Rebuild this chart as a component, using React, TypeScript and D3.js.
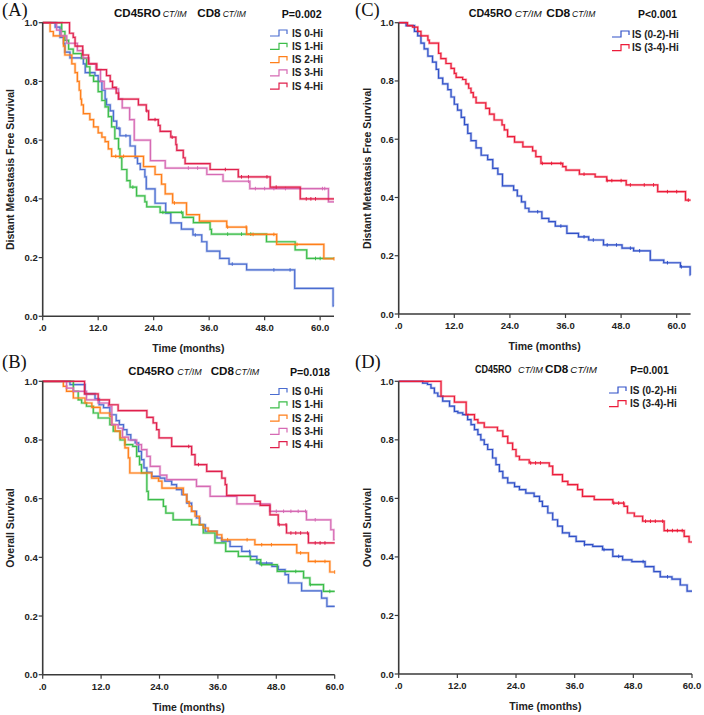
import React from "react";
import * as d3 from "d3";

// ---------- DATA (time in months, survival probability after step) ----------
const A_IS0 = [[2.7,0.985],[3.75,0.95],[4.5,0.93],[4.8,0.9],[5.9,0.88],[8.8,0.86],[9.2,0.83],[11.3,0.82],[12.0,0.8],[12.8,0.77],[13.5,0.74],[13.8,0.72],[14.6,0.7],[15.3,0.665],[16.0,0.64],[16.7,0.615],[18.9,0.58],[20.0,0.54],[20.5,0.52],[21.1,0.5],[22.1,0.475],[22.4,0.434],[24.3,0.385],[26.6,0.351],[27.7,0.318],[30.0,0.297],[32.5,0.277],[34.4,0.254],[35.5,0.222],[38.3,0.197],[40.3,0.178],[44.1,0.158],[54.5,0.095],[62.8,0.035]];
const A_IS1 = [[4.1,0.97],[4.8,0.94],[5.6,0.91],[6.6,0.895],[8.4,0.878],[9.5,0.85],[10.2,0.82],[11.0,0.8],[12.0,0.765],[12.8,0.735],[13.5,0.713],[14.2,0.68],[14.9,0.645],[15.6,0.605],[16.4,0.57],[16.7,0.54],[17.1,0.5],[18.2,0.462],[18.9,0.44],[20.3,0.41],[22.1,0.39],[22.5,0.373],[25.4,0.354],[30.3,0.337],[32.6,0.319],[36.2,0.296],[36.5,0.28],[48.4,0.254],[54.6,0.226],[57.1,0.197]];
const A_IS2 = [[1.6,0.97],[2.3,0.955],[4.5,0.92],[4.8,0.89],[6.3,0.86],[7.0,0.83],[7.5,0.8],[7.9,0.77],[8.2,0.74],[8.4,0.72],[8.8,0.69],[10.2,0.67],[11.0,0.645],[12.0,0.625],[12.8,0.61],[13.5,0.595],[14.2,0.57],[14.9,0.545],[21.8,0.51],[24.3,0.483],[25.7,0.45],[26.5,0.417],[28.1,0.386],[31.1,0.346],[33.9,0.324],[39.8,0.304],[44.1,0.279],[50.6,0.245],[60.8,0.196]];
const A_IS3 = [[3.0,0.975],[4.0,0.955],[5.2,0.93],[7.5,0.905],[8.7,0.88],[10.0,0.86],[11.5,0.84],[12.5,0.8],[13.3,0.775],[16.4,0.74],[17.2,0.71],[18.8,0.67],[19.8,0.6],[23.3,0.53],[26.5,0.505],[35.5,0.483],[39.0,0.46],[44.8,0.435],[61.8,0.39]];
const A_IS4 = [[5.8,0.964],[6.6,0.95],[7.0,0.92],[8.65,0.89],[9.9,0.86],[11.7,0.84],[13.8,0.82],[14.6,0.8],[15.1,0.78],[15.9,0.76],[16.4,0.74],[20.7,0.72],[22.4,0.7],[22.9,0.67],[25.0,0.65],[25.4,0.63],[27.7,0.61],[28.8,0.585],[29.0,0.565],[30.4,0.54],[30.8,0.52],[36.2,0.5],[42.3,0.475],[49.2,0.44],[55.7,0.4]];

const B_IS0 = [[5.6,0.989],[8.7,0.957],[10.75,0.94],[11.6,0.92],[12.5,0.91],[13.8,0.886],[15.1,0.866],[15.75,0.852],[16.6,0.835],[17.3,0.818],[18.1,0.8],[19.0,0.79],[19.7,0.761],[20.3,0.733],[20.8,0.705],[21.4,0.69],[22.4,0.676],[24.1,0.67],[25.1,0.66],[26.5,0.648],[27.5,0.631],[28.6,0.614],[29.6,0.585],[30.6,0.557],[31.6,0.534],[32.3,0.511],[33.4,0.489],[35.8,0.466],[36.8,0.455],[38.5,0.437],[40.9,0.42],[42.6,0.403],[44.0,0.38],[47.1,0.369],[48.4,0.358],[49.8,0.341],[50.5,0.3125],[53.2,0.286],[57.3,0.261],[58.4,0.233]];
const B_IS1 = [[6.3,0.966],[7.3,0.937],[8.0,0.926],[9.0,0.915],[10.4,0.892],[11.4,0.875],[13.8,0.852],[14.5,0.83],[15.9,0.8],[16.9,0.784],[18.5,0.778],[19.3,0.744],[19.9,0.716],[20.3,0.688],[21.4,0.625],[21.7,0.597],[24.8,0.574],[25.3,0.551],[26.8,0.528],[30.6,0.511],[33.0,0.483],[35.4,0.449],[37.6,0.42],[40.2,0.403],[42.7,0.392],[44.8,0.375],[48.2,0.352],[53.6,0.33],[54.9,0.307],[57.7,0.284]];
const B_IS2 = [[4.25,0.983],[4.9,0.966],[6.3,0.943],[8.7,0.926],[10.1,0.911],[11.8,0.892],[13.8,0.88],[14.2,0.852],[14.9,0.83],[15.9,0.807],[16.9,0.773],[17.6,0.739],[17.9,0.6875],[22.4,0.67],[23.8,0.66],[24.5,0.636],[28.9,0.614],[29.6,0.59],[30.1,0.574],[30.6,0.557],[31.3,0.54],[32.2,0.511],[33.0,0.5],[34.0,0.489],[35.8,0.477],[36.8,0.46],[43.6,0.443],[52.2,0.415],[54.6,0.386],[59.0,0.35]];
const B_IS3 = [[4.9,0.977],[6.3,0.966],[9.0,0.937],[11.4,0.926],[13.5,0.915],[14.2,0.852],[15.5,0.84],[16.4,0.81],[17.6,0.8],[19.3,0.784],[20.3,0.767],[21.4,0.744],[22.1,0.71],[24.1,0.68],[25.5,0.665],[31.6,0.642],[34.4,0.608],[39.9,0.582],[46.7,0.557],[54.2,0.528],[59.2,0.494],[59.8,0.46]];
const B_IS4 = [[8.6,0.957],[11.4,0.937],[13.7,0.92],[15.5,0.9],[21.4,0.877],[22.7,0.858],[23.4,0.835],[23.9,0.807],[26.5,0.778],[30.6,0.75],[31.3,0.716],[33.7,0.693],[36.8,0.67],[37.5,0.648],[37.8,0.611],[43.6,0.591],[44.7,0.577],[46.7,0.545],[48.4,0.511],[50.1,0.483],[54.6,0.449]];

const C_LOW = [[1.6,0.99],[3.4,0.97],[4.1,0.955],[4.8,0.93],[5.5,0.91],[6.3,0.885],[7.3,0.865],[8.1,0.84],[8.6,0.81],[9.5,0.79],[10.6,0.77],[11.3,0.745],[12.0,0.72],[12.7,0.7],[13.5,0.675],[14.2,0.65],[14.9,0.62],[15.6,0.595],[16.7,0.57],[17.8,0.545],[19.2,0.53],[20.3,0.5],[21.4,0.48],[22.4,0.44],[24.8,0.425],[25.6,0.405],[26.5,0.385],[27.3,0.363],[28.1,0.351],[30.9,0.328],[32.4,0.317],[33.8,0.302],[36.3,0.277],[38.8,0.265],[41.0,0.254],[44.2,0.237],[48.2,0.226],[50.7,0.217],[54.3,0.185],[57.2,0.176],[60.8,0.162],[62.9,0.134]];
const C_HIGH = [[1.9,0.99],[3.0,0.985],[4.1,0.97],[4.8,0.955],[6.3,0.94],[6.6,0.93],[8.6,0.895],[9.1,0.877],[10.2,0.86],[11.3,0.843],[12.0,0.826],[12.4,0.812],[13.8,0.805],[14.5,0.79],[15.1,0.775],[15.6,0.76],[16.1,0.744],[16.7,0.725],[18.8,0.706],[19.6,0.686],[20.6,0.666],[22.3,0.649],[22.8,0.632],[23.5,0.609],[25.0,0.59],[26.8,0.574],[28.9,0.56],[29.6,0.54],[30.7,0.517],[35.4,0.506],[36.1,0.494],[39.0,0.48],[42.4,0.471],[44.9,0.458],[49.1,0.443],[55.9,0.42],[61.9,0.391]];

const D_LOW = [[4.9,0.994],[5.9,0.989],[6.6,0.977],[7.3,0.96],[8.0,0.949],[9.0,0.932],[10.4,0.915],[11.4,0.897],[12.1,0.892],[13.1,0.886],[14.1,0.869],[14.8,0.852],[15.5,0.835],[16.2,0.818],[16.8,0.8],[17.5,0.784],[18.2,0.767],[19.2,0.738],[19.9,0.715],[20.6,0.692],[21.3,0.67],[22.3,0.653],[23.7,0.64],[24.7,0.63],[26.0,0.618],[27.7,0.607],[28.8,0.59],[29.4,0.573],[30.5,0.55],[31.5,0.527],[32.5,0.505],[33.5,0.482],[34.9,0.47],[36.3,0.453],[38.0,0.442],[39.7,0.436],[41.7,0.425],[43.8,0.402],[45.8,0.39],[47.7,0.384],[50.4,0.367],[52.2,0.35],[53.5,0.332],[55.9,0.324],[57.6,0.304],[59.0,0.283]];
const D_HIGH = [[8.66,0.949],[11.4,0.929],[13.8,0.886],[15.5,0.869],[16.2,0.858],[17.5,0.843],[20.2,0.831],[21.3,0.812],[22.3,0.789],[23.3,0.767],[24.0,0.744],[24.7,0.732],[26.7,0.721],[30.8,0.71],[31.5,0.681],[33.5,0.658],[34.6,0.647],[36.6,0.63],[37.6,0.607],[40.0,0.596],[43.8,0.584],[46.1,0.573],[46.8,0.55],[48.2,0.539],[49.9,0.522],[54.3,0.49],[58.4,0.47],[59.4,0.451]];

// censor times
const A_IS0_C = [16.5, 18.0, 33.0, 41.0, 50.0, 53.5];
const A_IS1_C = [19.5, 26.0, 30.0, 40.0, 43.0, 45.0, 59.0, 60.0];
const A_IS2_C = [15.8, 17.5, 28.5, 40.0, 44.0, 45.5, 50.0, 55.0, 63.0];
const A_IS3_C = [31.5, 33.5, 44.5, 46.0, 48.0, 50.0, 52.5, 60.5, 61.0];
const A_IS4_C = [22.5, 24.3, 28.0, 39.5, 43.0, 44.5, 48.5, 50.5, 57.0, 58.0, 59.0];
const B_IS0_C = [42.5, 44.5, 46.0];
const B_IS1_C = [45.0, 52.0, 55.0, 59.0];
const B_IS2_C = [38.0, 42.0, 45.0, 47.0, 53.0, 56.0, 58.0, 60.0];
const B_IS3_C = [48.0, 49.5, 51.0, 52.5, 54.0, 56.0];
const B_IS4_C = [30.0, 32.0, 48.6, 50.0, 51.0, 52.0, 53.0, 54.4, 56.0, 57.0, 58.0];
const C_LOW_C = [30.0, 35.0, 40.0, 42.0, 45.0, 47.0, 50.0, 52.0, 58.0, 61.0];
const C_HIGH_C = [31.0, 33.0, 35.0, 40.0, 45.0, 46.0, 48.0, 50.0, 53.0, 55.0, 58.0, 60.0, 62.5];
const D_LOW_C = [38.0, 42.0, 45.0, 50.0, 55.0];
const D_HIGH_C = [27.0, 28.0, 29.0, 44.0, 45.0, 46.0, 50.5, 51.5, 52.5, 54.0, 55.0, 56.0, 57.0, 58.0];

const IS5_NAMES = ["IS 0-Hi", "IS 1-Hi", "IS 2-Hi", "IS 3-Hi", "IS 4-Hi"];
const IS2_NAMES = ["IS (0-2)-Hi", "IS (3-4)-Hi"];
const TITLE_PARTS = ["CD45RO", "CT/IM", "CD8", "CT/IM"];
const X_TICKS = [0, 12, 24, 36, 48, 60];
const Y_TICKS = [0, 0.2, 0.4, 0.6, 0.8, 1.0];

const COLORS5 = ["#4a6cd0", "#3cbd4a", "#ff7f1a", "#d66ab4", "#e0204c"];
const COLORS2 = ["#3050c8", "#ec1c3a"];

type Pt = number[];

const panels = [
  {
    id: "A", label: "(A)", lx: 2, ly: 15.5,
    x0: 42.7, x1: 334, y0: 316.3, y1: 22.7, tmax: 63,
    ylabel: "Distant Metastasis Free Survival", ylabX: 14,
    titleX: [114, 162.7, 197.3, 222.7], titleW: [46.7, 24, 23.3, 23.3], titleY: 17,
    p: "P=0.002", pX: 281.7, pW: 40,
    legX: 270, legTextX: 292, legY: 36.5,
    names: IS5_NAMES, colors: COLORS5,
    data: [A_IS0, A_IS1, A_IS2, A_IS3, A_IS4],
    cens: [A_IS0_C, A_IS1_C, A_IS2_C, A_IS3_C, A_IS4_C],
  },
  {
    id: "C", label: "(C)", lx: 355, ly: 15.5,
    x0: 398.7, x1: 690.6, y0: 314, y1: 22.7, tmax: 63,
    ylabel: "Distant Metastasis Free Survival", ylabX: 371,
    titleX: [468.7, 514.7, 546.3, 572], titleW: [43.3, 27, 24, 23.3], titleY: 17,
    p: "P<0.001", pX: 638, pW: 39,
    legX: 612, legTextX: 632, legY: 37.5,
    names: IS2_NAMES, colors: COLORS2,
    data: [C_LOW, C_HIGH],
    cens: [C_LOW_C, C_HIGH_C],
  },
  {
    id: "B", label: "(B)", lx: 2, ly: 367.5,
    x0: 42.7, x1: 334.7, y0: 674.7, y1: 381.3, tmax: 60,
    ylabel: "Overall Survival", ylabX: 14,
    titleX: [128.3, 177.3, 210.7, 235], titleW: [45.7, 24.3, 23.3, 24.3], titleY: 375,
    p: "P=0.018", pX: 290, pW: 40,
    legX: 270, legTextX: 292, legY: 395,
    names: IS5_NAMES, colors: COLORS5,
    data: [B_IS0, B_IS1, B_IS2, B_IS3, B_IS4],
    cens: [B_IS0_C, B_IS1_C, B_IS2_C, B_IS3_C, B_IS4_C],
  },
  {
    id: "D", label: "(D)", lx: 355, ly: 367.5,
    x0: 398.7, x1: 692, y0: 674, y1: 381.3, tmax: 60,
    ylabel: "Overall Survival", ylabX: 371,
    titleX: [475, 518, 545, 570.3], titleW: [36.5, 25, 23.3, 26.7], titleY: 373,
    p: "P=0.001", pX: 630.3, pW: 38.3,
    legX: 609, legTextX: 630, legY: 393.5,
    names: IS2_NAMES, colors: COLORS2,
    data: [D_LOW, D_HIGH],
    cens: [D_LOW_C, D_HIGH_C],
  },
];

const SANS = "'Liberation Sans', Arial, Helvetica, sans-serif";

function survAt(pts: Pt[], t: number) {
  let s = 1;
  for (const p of pts) {
    if (p[0] <= t) s = p[1];
    else break;
  }
  return s;
}

function Panel({ cfg }: { cfg: any }) {
  const x = d3.scaleLinear().domain([0, cfg.tmax]).range([cfg.x0, cfg.x1]);
  const y = d3.scaleLinear().domain([0, 1]).range([cfg.y0, cfg.y1]);
  const line = d3
    .line<Pt>()
    .x((d) => x(d[0]))
    .y((d) => y(d[1]))
    .curve(d3.curveStepAfter);
  const axisColor = "#3a3a3a";
  const legStep = cfg.names.length > 2 ? 13.3 : 13.7;
  return (
    <g>
      <text x={cfg.lx} y={cfg.ly} fontFamily="'Liberation Serif', 'Times New Roman', serif" fontSize={18.5} fill="#111">
        {cfg.label}
      </text>
      {/* title */}
      <g fontFamily={SANS} fill="#111">
        {TITLE_PARTS.map((t, i) => (
          <text
            key={i}
            x={cfg.titleX[i]}
            y={cfg.titleY}
            fontSize={i % 2 === 0 ? 11 : 8.5}
            fontWeight={i % 2 === 0 ? "bold" : "normal"}
            fontStyle={i % 2 === 0 ? "normal" : "italic"}
            textLength={cfg.titleW[i]}
            lengthAdjust="spacingAndGlyphs"
          >
            {t}
          </text>
        ))}
        <text x={cfg.pX} y={cfg.titleY + 0.5} fontSize={11} fontWeight="bold" textLength={cfg.pW} lengthAdjust="spacingAndGlyphs">
          {cfg.p}
        </text>
      </g>
      {/* curves */}
      {cfg.data.map((pts: Pt[], i: number) => {
        const last = pts[pts.length - 1][1];
        const full: Pt[] = [[0, 1], ...pts, [cfg.tmax, last]];
        return (
          <g key={i}>
            <path d={line(full) || ""} fill="none" stroke={cfg.colors[i]} strokeOpacity={0.35} strokeWidth={2.6} />
            <path d={line(full) || ""} fill="none" stroke={cfg.colors[i]} strokeWidth={1.2} />
            {cfg.cens[i].map((c: number, j: number) => {
              const s = survAt(pts, c);
              return (
                <line key={j} x1={x(c)} x2={x(c)} y1={y(s) - 1.8} y2={y(s) + 1.8} stroke={cfg.colors[i]} strokeWidth={1} />
              );
            })}
          </g>
        );
      })}
      {/* axes */}
      <line x1={cfg.x0} x2={cfg.x0} y1={y(1)} y2={y(0)} stroke={axisColor} strokeWidth={1.6} />
      <line x1={cfg.x0} x2={cfg.x1} y1={y(0)} y2={y(0)} stroke={axisColor} strokeWidth={1.6} />
      <g fontFamily={SANS} fontSize={9.5} fontWeight="bold" fill="#222">
        {Y_TICKS.map((v) => (
          <g key={v}>
            <line x1={cfg.x0 - 4} x2={cfg.x0} y1={y(v)} y2={y(v)} stroke={axisColor} strokeWidth={1.2} />
            <text x={cfg.x0 - 5} y={y(v) + 3.5} textAnchor="end">{v.toFixed(1)}</text>
          </g>
        ))}
        {X_TICKS.map((v) => (
          <g key={v}>
            <line x1={x(v)} x2={x(v)} y1={y(0)} y2={y(0) + 4} stroke={axisColor} strokeWidth={1.2} />
            <text x={x(v)} y={y(0) + 15} textAnchor="middle">{v === 0 ? ".0" : v.toFixed(1)}</text>
          </g>
        ))}
      </g>
      <text
        x={(cfg.x0 + cfg.x1) / 2}
        y={y(0) + 36}
        textAnchor="middle"
        fontFamily={SANS}
        fontSize={10.5}
        fontWeight="bold"
        fill="#222"
      >
        Time (months)
      </text>
      <text
        transform={`translate(${cfg.ylabX},${(y(0) + y(1)) / 2}) rotate(-90)`}
        textAnchor="middle"
        fontFamily={SANS}
        fontSize={10.5}
        fontWeight="bold"
        fill="#222"
      >
        {cfg.ylabel}
      </text>
      {/* legend */}
      <g fontFamily={SANS} fontSize={10} fontWeight="bold" fill="#222">
        {cfg.names.map((n: string, i: number) => {
          const ty = cfg.legY + i * legStep;
          const my = ty - 3.5;
          return (
            <g key={n}>
              <path
                d={`M${cfg.legX},${my + 3} H${cfg.legX + 9} V${my - 3} H${cfg.legX + 17} V${my + 1}`}
                fill="none"
                stroke={cfg.colors[i]}
                strokeWidth={1.2}
              />
              <text x={cfg.legTextX} y={ty}>{n}</text>
            </g>
          );
        })}
      </g>
    </g>
  );
}

export default function App() {
  return (
    <svg
      width={704}
      height={715}
      viewBox="0 0 704 715"
      style={{ position: "absolute", left: 0, top: 0, background: "#fff" }}
    >
      <rect x={0} y={0} width={704} height={715} fill="#fff" />
      {panels.map((p) => (
        <Panel key={p.id} cfg={p} />
      ))}
    </svg>
  );
}
